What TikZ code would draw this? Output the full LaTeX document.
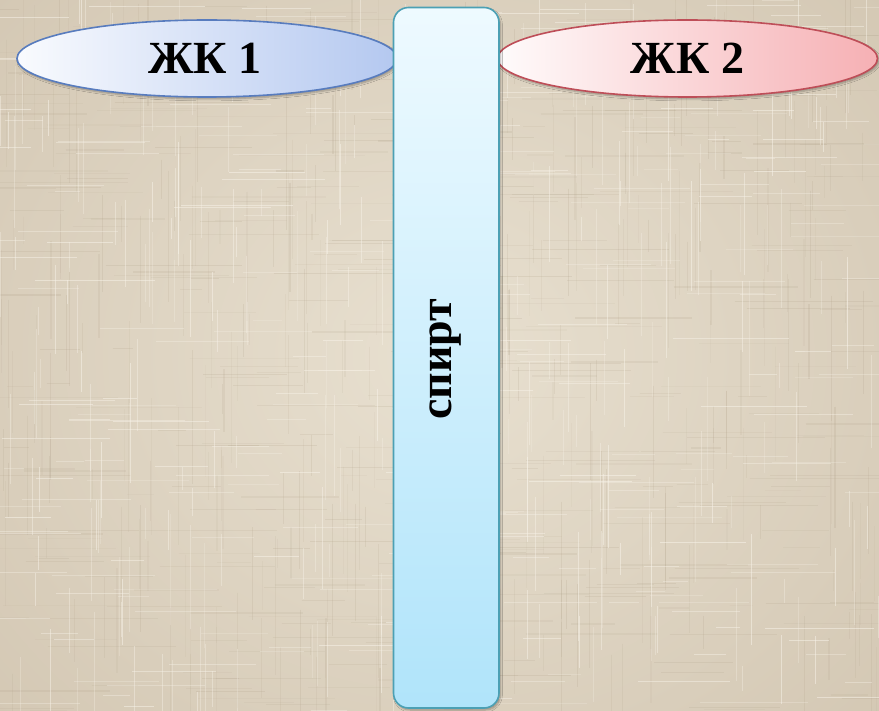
\documentclass[tikz,border=0pt]{standalone}
\usepackage{fontspec}
\setmainfont{Liberation Serif}
\usetikzlibrary{shapes.geometric,shadows.blur}

\definecolor{linenbase}{RGB}{232,224,208}
\definecolor{linenedge}{RGB}{212,200,180}
\definecolor{linendark}{RGB}{175,160,136}
\definecolor{linenlight}{RGB}{248,243,233}
\definecolor{lqfill}{RGB}{180,200,240}
\definecolor{lqline}{RGB}{88,124,190}
\definecolor{rqfill}{RGB}{246,176,180}
\definecolor{rqline}{RGB}{190,78,88}
\definecolor{barTop}{RGB}{238,250,255}
\definecolor{barBottom}{RGB}{176,228,250}
\definecolor{barline}{RGB}{76,160,180}

\tikzset{
  lens/.style={ellipse, minimum width=380pt, minimum height=77pt, inner sep=0pt,
    line width=1.6pt, shading=axis, shading angle=90,
    blur shadow={shadow blur steps=6, shadow xshift=1.5pt, shadow yshift=-2pt, shadow opacity=30}},
  bar/.style={rounded corners=15pt, line width=1.6pt, draw=barline,
    top color=barTop, bottom color=barBottom,
    blur shadow={shadow blur steps=6, shadow xshift=1.5pt, shadow yshift=-2pt, shadow opacity=30}},
  label/.style={font=\bfseries\fontsize{46}{50}\selectfont, inner sep=0pt}
}

\begin{document}
\begin{tikzpicture}[x=1pt,y=-1pt]
  \useasboundingbox (0,0) rectangle (879,711);

  % linen background with a slightly darker rim
  \fill[linenedge] (0,0) rectangle (879,711);
  \shade[inner color=linenbase, outer color=linenedge] (-160,-180) rectangle (1039,891);

  % woven threads
  \pgfmathsetseed{42}
  \foreach \i in {1,...,320} {
    \pgfmathsetmacro\ya{rnd*711}
    \pgfmathsetmacro\xa{rnd*879}
    \pgfmathsetmacro\len{20+rnd*120}
    \pgfmathsetmacro\op{0.06+rnd*0.14}
    \pgfmathsetmacro\lw{0.4+rnd*1.2}
    \draw[linendark, opacity=\op, line width=\lw pt] (\xa-\len/2,\ya) -- (\xa+\len/2,\ya);
  }
  \foreach \i in {1,...,320} {
    \pgfmathsetmacro\xa{rnd*879}
    \pgfmathsetmacro\ya{rnd*711}
    \pgfmathsetmacro\len{20+rnd*120}
    \pgfmathsetmacro\op{0.06+rnd*0.14}
    \pgfmathsetmacro\lw{0.4+rnd*1.2}
    \draw[linendark, opacity=\op, line width=\lw pt] (\xa,\ya-\len/2) -- (\xa,\ya+\len/2);
  }
  \foreach \i in {1,...,260} {
    \pgfmathsetmacro\ya{rnd*711}
    \pgfmathsetmacro\xa{rnd*879}
    \pgfmathsetmacro\len{20+rnd*100}
    \pgfmathsetmacro\op{0.2+rnd*0.35}
    \draw[linenlight, opacity=\op, line width=0.9pt] (\xa-\len/2,\ya) -- (\xa+\len/2,\ya);
    \pgfmathsetmacro\xb{rnd*879}
    \pgfmathsetmacro\yb{rnd*711}
    \draw[linenlight, opacity=\op, line width=0.9pt] (\xb,\yb-\len/2) -- (\xb,\yb+\len/2);
  }

  % the two liquid crystals
  \node[lens, draw=lqline, left color=white!92!lqfill, right color=lqfill] (lc1) at (207,58.5) {};
  \node[label] at (205,58.5) {ЖК 1};
  \node[lens, draw=rqline, left color=white!95!rqfill, right color=rqfill] (lc2) at (687.5,58.5) {};
  \node[label] at (687.5,58.5) {ЖК 2};

  % the alcohol column between them
  \draw[bar] (393.5,7.5) rectangle (499,708);
  \node[label, rotate=90] (alc) at (446,359) {спирт};
\end{tikzpicture}
\end{document}
